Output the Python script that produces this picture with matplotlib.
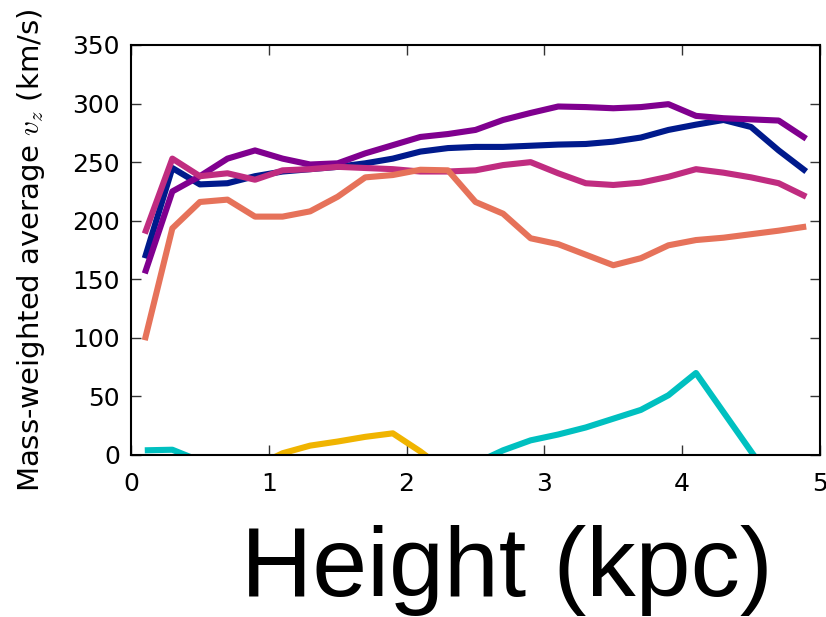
import matplotlib
matplotlib.use("Agg")
import matplotlib.pyplot as plt
import numpy as np

height = [0.1, 0.3, 0.5, 0.7, 0.9, 1.1, 1.3, 1.5, 1.7, 1.9, 2.1, 2.3, 2.5,
          2.7, 2.9, 3.1, 3.3, 3.5, 3.7, 3.9, 4.1, 4.3, 4.5, 4.7, 4.9]

vz_navy = [168, 245, 231, 232, 238, 242, 244, 246, 249, 253, 259, 262, 263,
           263, 264, 265, 265.5, 267.5, 271, 277.5, 282, 286, 280, 260, 242]
vz_purple = [155, 225, 238, 253, 260, 253, 248, 249, 257.5, 264.5, 271.5, 274, 277.5,
             286, 292, 297.5, 297, 296, 297, 299.5, 289.5, 287.5, 286.5, 285.5, 270]
vz_magenta = [189, 253, 238, 240.5, 235, 243, 244, 246, 245, 244, 242, 242, 243,
              247.5, 250, 240.5, 232, 230.5, 232.5, 237.5, 244, 241, 237, 232, 220.5]
vz_salmon = [98, 193.5, 216, 218, 203.5, 203.5, 208, 220.5, 237, 239, 243.5, 243, 216,
             206, 185, 180, 171, 162, 168, 179, 183.5, 185.5, 188.5, 191.5, 195]
vz_gold = [-60, -50, -40, -30, -10, 1.5, 8, 11.5, 15.5, 18.5, 3, -15, -30,
           -40, -50, -60, -70, -80, -90, -100, -110, -120, -130, -140, -150]
vz_cyan = [4, 4.5, -5, -20, -30, -35, -40, -40, -35, -30, -25, -18, -7,
           4, 12.5, 17.5, 23.5, 31, 38.5, 51, 70, 36.5, 3, -30, -60]

series = [
    (vz_navy, "#001a8c"),
    (vz_purple, "#80008f"),
    (vz_magenta, "#c02c80"),
    (vz_salmon, "#e6725a"),
    (vz_gold, "#f0b400"),
    (vz_cyan, "#00c0c0"),
]

plt.rcParams["mathtext.fontset"] = "cm"

fig = plt.figure(figsize=(8.26, 6.17), dpi=100)
ax = fig.add_axes([131/826, 1-455/617, (820-131)/826, (455-45)/617])

for vals, col in series:
    ax.plot(height, vals, color=col, lw=4.4, solid_capstyle="butt")

ax.set_xlim(0, 5)
ax.set_ylim(0, 350)
ax.set_xticks([0, 1, 2, 3, 4, 5])
ax.set_yticks(np.arange(0, 351, 50))
ax.tick_params(direction="in", top=True, right=True, length=7, width=1,
               labelsize=18, color="#333333")
ax.tick_params(axis="y", pad=8)
ax.tick_params(axis="x", pad=12)
for sp in ax.spines.values():
    sp.set_linewidth(1.5)

ax.set_ylabel(r"Mass-weighted average $v_z$ (km/s)", fontsize=21)
ax.yaxis.set_label_coords(-0.122, 0.5)

fig.text(507/826, 1-596/617, "Height (kpc)", fontsize=71, family="Liberation Sans",
         ha="center", va="baseline")

fig.savefig("out.png", dpi=100)
